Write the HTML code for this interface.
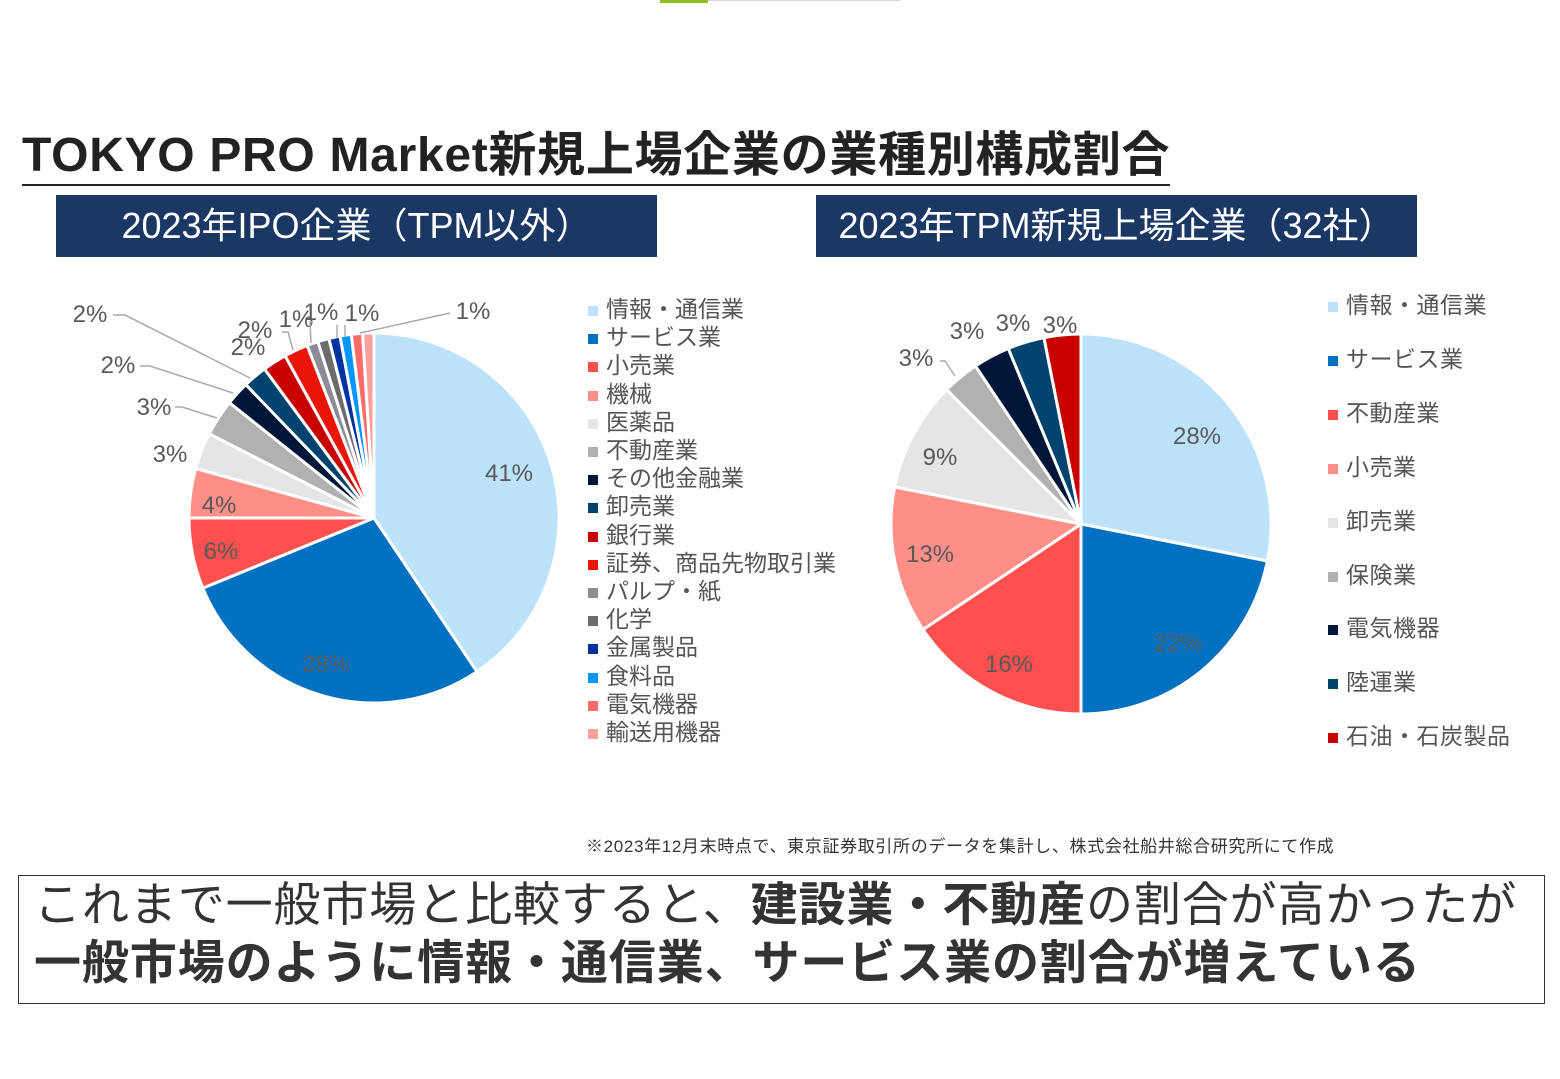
<!DOCTYPE html><html><head><meta charset="utf-8"><style>
body{margin:0;width:1560px;height:1079px;background:#fff;position:relative;overflow:hidden;font-family:"Liberation Sans","Noto Sans CJK JP",sans-serif}
.a{position:absolute;white-space:nowrap}
.hd{position:absolute;background:#1B3764;color:#fff;font-size:36px;line-height:62px;height:62px;text-align:center;top:195px}
.lg{position:absolute;font-size:23px;color:#555;line-height:28.2px}
.lg span{display:inline-block;width:10px;height:10px;margin-right:8px;vertical-align:1px}
</style></head><body>
<div class="a" style="left:660px;top:0;width:48px;height:3px;background:#8DC21F"></div>
<div class="a" style="left:708px;top:0;width:192px;height:1px;background:#ddd"></div>
<div class="a" style="left:22px;top:128px;font-size:48px;font-weight:bold;color:#222;border-bottom:2px solid #222;line-height:56px;letter-spacing:0.7px">TOKYO PRO Market新規上場企業の業種別構成割合</div>
<div class="hd" style="left:56px;width:601px">2023年IPO企業（TPM以外）</div>
<div class="hd" style="left:816px;width:601px">2023年TPM新規上場企業（32社）</div>
<svg class="a" style="left:0;top:0" width="1560" height="1079" id="s"></svg>
<div class="lg" style="left:588px;top:295px" id="l1"></div>
<div class="lg" style="left:1328px;top:279px;line-height:53.9px;letter-spacing:0.5px" id="l2"></div>
<div class="a" style="left:586px;top:832px;font-size:17px;color:#333;letter-spacing:0.65px">※2023年12月末時点で、東京証券取引所のデータを集計し、株式会社船井総合研究所にて作成</div>
<div class="a" style="left:18px;top:875px;width:1525px;height:127px;border:1.5px solid #333"></div>
<div class="a" style="left:34px;top:876px;font-size:47px;color:#333;line-height:58px;letter-spacing:0.9px">これまで一般市場と比較すると、<b>建設業・不動産</b>の割合が高かったが<br><b>一般市場のように情報・通信業、サービス業の割合が増えている</b></div>
<script>
const s=document.getElementById('s');let h='';
function pie(cx,cy,r,vals,cols){let t=vals.reduce((a,b)=>a+b,0),a=0;
vals.forEach((v,i)=>{let a1=a+v/t*2*Math.PI;let x0=cx+r*Math.sin(a),y0=cy-r*Math.cos(a),x1=cx+r*Math.sin(a1),y1=cy-r*Math.cos(a1);
h+=`<path d="M${cx},${cy}L${x0},${y0}A${r},${r} 0 ${a1-a>Math.PI?1:0} 1 ${x1},${y1}Z" fill="${cols[i]}" stroke="#fff" stroke-width="3"/>`;a=a1;});}
const c1=['#BDE3FC','#0070C0','#FF5050','#FF8F87','#E5E5E7','#B1B1B3','#001639','#00436E','#C80000','#E81508','#8C8C96','#6B6B70','#0033A0','#0096FF','#FF6B6B','#FFA09A'];
pie(374,518,185,[40.6,28.2,6.2,4.3,3.2,3.2,2.1,2.1,2.1,2.1,.98,.98,.98,.98,.98,.98],c1);
const c2=['#BDE3FC','#0070C0','#FF5050','#FF8F87','#E5E5E7','#B1B1B3','#001639','#00436E','#C80000'];
pie(1081,524,190,[9,7,5,4,3,1,1,1,1],c2);
const L=[[509,481,'41%'],[326,672,'28%'],[221,559,'6%'],[219,513,'4%'],[170,462,'3%'],[154,415,'3%'],[118,373,'2%'],[90,322,'2%'],[248,355,'2%'],[255,338,'2%'],[296,327,'1%'],[321,320,'1%'],[362,321,'1%'],[473,319,'1%'],
[1197,444,'28%'],[1178,651,'22%'],[1009,672,'16%'],[930,562,'13%'],[940,465,'9%'],[916,366,'3%'],[967,339,'3%'],[1013,331,'3%'],[1060,333,'3%']];
L.forEach(l=>h+=`<text x="${l[0]}" y="${l[1]}" text-anchor="middle" font-size="24" fill="#595959" font-family="Liberation Sans,sans-serif">${l[2]}</text>`);
const ln=[[113,315,125,315,250,378],[140,366,150,366,233,393],[175,407,182,407,217,418],[450,313,360,333],[282,332,288,332,293,350],[313,322,310,322,311,343],[337,325,337,325,337,338],[345,325,345,325,345,337],[940,361,945,361,955,376]];
ln.forEach(p=>h+=`<polyline points="${p.join(' ')}" fill="none" stroke="#aaa" stroke-width="1.5"/>`);
s.innerHTML=h;
const n1=['情報・通信業','サービス業','小売業','機械','医薬品','不動産業','その他金融業','卸売業','銀行業','証券、商品先物取引業','パルプ・紙','化学','金属製品','食料品','電気機器','輸送用機器'];
document.getElementById('l1').innerHTML=n1.map((n,i)=>`<div><span style="background:${c1[i]}"></span>${n}</div>`).join('');
const n2=['情報・通信業','サービス業','不動産業','小売業','卸売業','保険業','電気機器','陸運業','石油・石炭製品'];
document.getElementById('l2').innerHTML=n2.map((n,i)=>`<div><span style="background:${c2[i]}"></span>${n}</div>`).join('');
</script></body></html>
